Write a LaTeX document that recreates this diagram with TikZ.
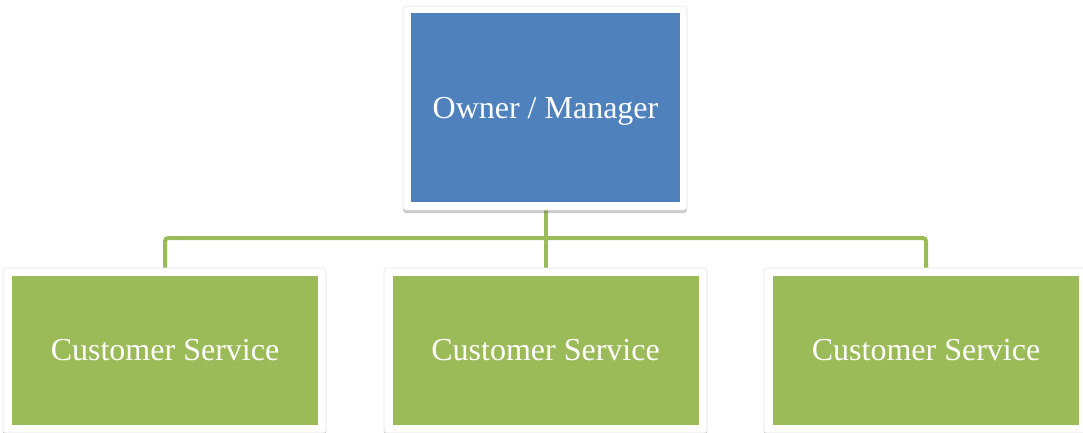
\documentclass[tikz,border=0pt]{standalone}
\usepackage{fontspec}
\setmainfont{Liberation Serif}
\usetikzlibrary{shadows,backgrounds}
\definecolor{blu}{HTML}{4F81BD}
\definecolor{grn}{HTML}{9BBB59}
\begin{document}
\begin{tikzpicture}[x=1pt,y=-1pt,
  frame/.style={draw=black!10, line width=0.6pt, fill=white, rounded corners=3pt,
    inner sep=0pt, outer sep=0pt,
    drop shadow={shadow xshift=0pt, shadow yshift=-3pt, opacity=0.35, fill=black!60}},
  box/.style={inner sep=0pt, outer sep=0pt, text=white,
    font=\fontsize{32}{36}\selectfont},
  conn/.style={draw=grn, line width=4pt, rounded corners=3pt}]
\useasboundingbox (0,0) rectangle (1083,432);
% frames
\node[frame, minimum width=284pt, minimum height=204pt] (topfr) at (545,108) {};
\node[frame, minimum width=323pt, minimum height=165pt] (fr1) at (164.5,350.5) {};
\node[frame, minimum width=323pt, minimum height=165pt] (fr2) at (545.5,350.5) {};
\node[frame, minimum width=323pt, minimum height=165pt] (fr3) at (925.5,350.5) {};
% coloured boxes
\node[box, fill=blu, minimum width=269pt, minimum height=189pt] (top) at (545.5,107.5) {\raisebox{-4pt}[\height][\depth]{Owner / Manager}};
\node[box, fill=grn, minimum width=306pt, minimum height=149pt] (c1) at (165,350.5) {Customer Service};
\node[box, fill=grn, minimum width=306pt, minimum height=149pt] (c2) at (545.5,350.5) {Customer Service};
\node[box, fill=grn, minimum width=306pt, minimum height=149pt] (c3) at (926,350.5) {Customer Service};
\coordinate (bus) at (0,238);
\begin{scope}[on background layer]
\draw[conn] (top.south) -- (fr2.north);
\draw[conn] (fr1.north -| c1.north) -- (c1.north |- bus) -- (c3.north |- bus) -- (fr3.north -| c3.north);
\end{scope}
\end{tikzpicture}
\end{document}
